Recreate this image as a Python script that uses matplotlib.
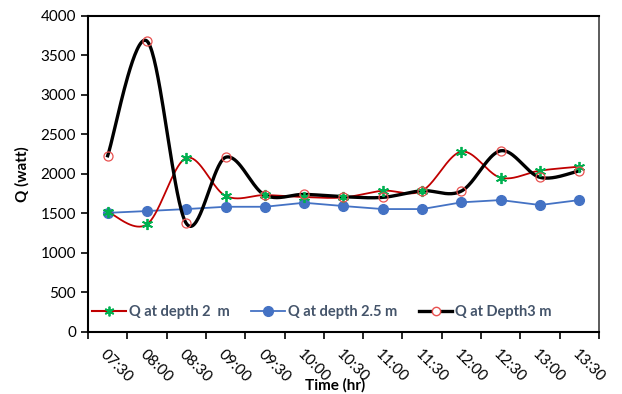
import numpy as np
import matplotlib.pyplot as plt
from matplotlib.lines import Line2D

plt.rcParams['font.family'] = ['Lato', 'DejaVu Sans']

times = ["07:30", "08:00", "08:30", "09:00", "09:30", "10:00", "10:30",
         "11:00", "11:30", "12:00", "12:30", "13:00", "13:30"]
q_depth_2 = [1520, 1360, 2200, 1720, 1730, 1705, 1700, 1785, 1785, 2280, 1950, 2040, 2090]
q_depth_25 = [1505, 1528, 1553, 1582, 1582, 1633, 1591, 1553, 1553, 1638, 1667, 1604, 1667]
q_depth_3 = [2228, 3680, 1372, 2208, 1730, 1739, 1709, 1701, 1785, 1781, 2291, 1954, 2038]


def smooth(x, y, n=40):
    # Bezier smoothing through every point (control points from neighbouring slopes)
    x = np.asarray(x, float)
    y = np.asarray(y, float)
    px = np.concatenate([[x[0]], x, [x[-1]]])
    py = np.concatenate([[y[0]], y, [y[-1]]])
    t = np.linspace(0, 1, n)
    xs, ys = [], []
    for i in range(1, len(px) - 2):
        p0 = np.array([px[i], py[i]])
        p3 = np.array([px[i + 1], py[i + 1]])
        p1 = p0 + (np.array([px[i + 1], py[i + 1]]) - np.array([px[i - 1], py[i - 1]])) / 6
        p2 = p3 - (np.array([px[i + 2], py[i + 2]]) - np.array([px[i], py[i]])) / 6
        b = ((1 - t) ** 3)[:, None] * p0 + (3 * (1 - t) ** 2 * t)[:, None] * p1 \
            + (3 * (1 - t) * t ** 2)[:, None] * p2 + (t ** 3)[:, None] * p3
        xs.append(b[:, 0])
        ys.append(b[:, 1])
    return np.concatenate(xs), np.concatenate(ys)


fig = plt.figure(figsize=(6.22, 3.94), dpi=100)
ax = fig.add_axes([0.1415, 0.158, 0.8215, 0.802])

x = np.arange(len(times))

red = "#C00000"
green = "#00B050"
blue = "#4472C4"

sx, sy = smooth(x, q_depth_2)
ax.plot(sx, sy, color=red, lw=1.3, zorder=3)
ax.plot(x, q_depth_2, ls="none", marker=(6, 2, 0), ms=8, mew=1.3, color=green, zorder=5)

ax.plot(x, q_depth_25, color=blue, lw=1.3, marker="o", ms=7, zorder=2)

sx, sy = smooth(x, q_depth_3)
ax.plot(sx, sy, color="black", lw=2.4, zorder=4)
ax.plot(x, q_depth_3, ls="none", marker="o", ms=6.5, mfc="none", mec="#E8504F", mew=0.9, zorder=6)

ax.set_xlim(-0.5, len(times) - 0.5)
ax.set_ylim(0, 4000)
ax.set_yticks(np.arange(0, 4001, 500))
ax.tick_params(axis="y", labelsize=11, length=5, width=1.2, direction="out")

ax.set_xticks(x)
ax.set_xticklabels(times, rotation=-45, ha="left", rotation_mode="anchor", fontsize=11)
ax.tick_params(axis="x", which="major", length=0, pad=11)
ax.set_xticks(np.arange(-0.5, len(times)), minor=True)
ax.tick_params(axis="x", which="minor", length=5, width=1.2, direction="out")

for side in ["left", "bottom", "top"]:
    ax.spines[side].set_linewidth(1.5)
ax.spines["right"].set_linewidth(1.2)
ax.spines["right"].set_color("#404040")

ax.set_ylabel("Q (watt)", fontsize=11, fontweight="bold", labelpad=8)
ax.set_xlabel("Time (hr)", fontsize=11, fontweight="bold", va="center")
ax.xaxis.set_label_coords(0.483, -0.169)

handles = [
    Line2D([], [], color=red, lw=1.5, marker=(6, 2, 0), ms=7, mec=green, mew=1.3),
    Line2D([], [], color=blue, lw=1.3, marker="o", ms=7),
    Line2D([], [], color="black", lw=2.4, marker="o", ms=6, mfc="white", mec="#E8504F"),
]
labels = ["Q at depth 2  m", "Q at depth 2.5 m", "Q at Depth3 m"]
leg = ax.legend(handles, labels, loc="lower center", ncol=3, frameon=False,
                bbox_to_anchor=(0.458, 0.0), handlelength=2.3, handletextpad=0.2,
                columnspacing=1.5, prop={"weight": "bold", "size": 10.5})
for t in leg.get_texts():
    t.set_color("#44546A")

fig.savefig("out.png", dpi=100)
